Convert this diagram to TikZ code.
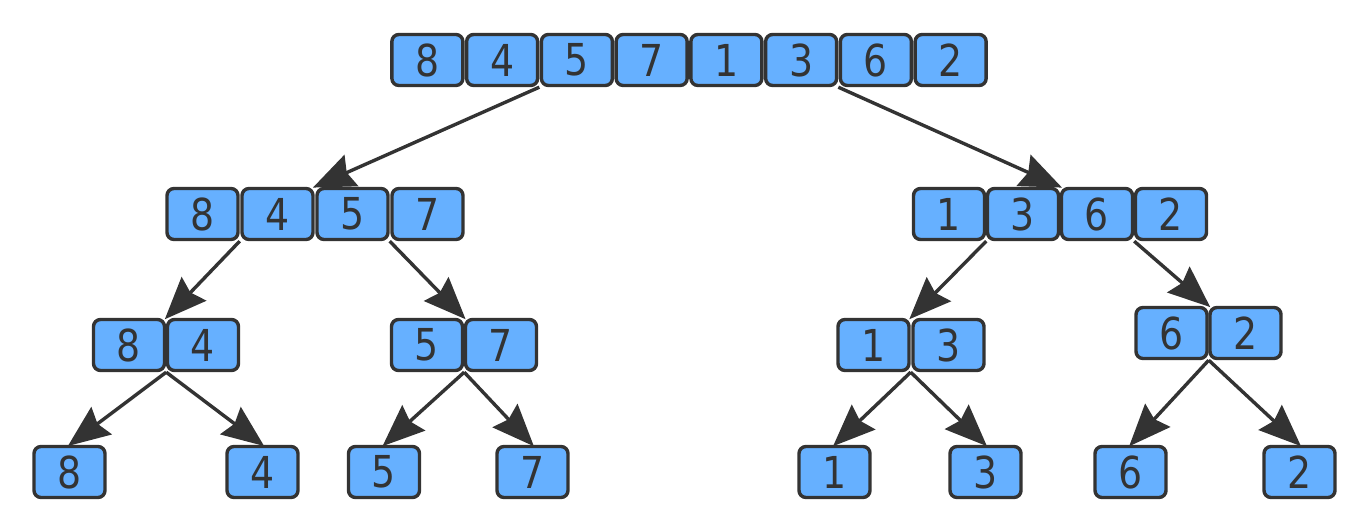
\documentclass[tikz,border=0pt]{standalone}
\usepackage{fontspec}
\setmainfont{DejaVu Sans}
\usetikzlibrary{arrows.meta}
\definecolor{boxfill}{RGB}{102,176,255}
\definecolor{ink}{RGB}{51,51,51}
\newcommand{\dg}[1]{\scalebox{0.86}[1]{#1}}
\tikzset{
  cell/.style={draw=ink, fill=boxfill, line width=1.7pt, rounded corners=3.5pt,
    minimum width=35.5pt, minimum height=25.5pt, inner sep=0pt, text=ink,
    font=\fontsize{22}{22}\selectfont},
  link/.style={draw=ink, line width=1.7pt, -{Stealth[length=21pt,width=17pt,inset=2.5pt]}, shorten >=-1pt}
}
\begin{document}
\begin{tikzpicture}[x=0.5pt,y=-0.5pt]
\useasboundingbox (0,0) rectangle (1368,522);
% top row
\foreach \v [count=\i from 0] in {8,4,5,7,1,3,6,2} {
  \node[cell] (t\i) at ({390+74.75*(\i+0.5)},60) {\dg{\v}};
}
% level 2 left
\foreach \v [count=\i from 0] in {8,4,5,7} {
  \node[cell] (a\i) at ({165+75*(\i+0.5)},214) {\dg{\v}};
}
% level 2 right
\foreach \v [count=\i from 0] in {1,3,6,2} {
  \node[cell] (b\i) at ({912+74*(\i+0.5)},214) {\dg{\v}};
}
% level 3
\node[cell] (c0) at (129,345) {\dg{8}};
\node[cell] (c1) at (203,345) {\dg{4}};
\node[cell] (d0) at (427,345) {\dg{5}};
\node[cell] (d1) at (501,345) {\dg{7}};
\node[cell] (e0) at (873.5,345) {\dg{1}};
\node[cell] (e1) at (948.5,345) {\dg{3}};
\node[cell] (f0) at (1171.5,333) {\dg{6}};
\node[cell] (f1) at (1245.5,333) {\dg{2}};
% leaves
\node[cell] (g0) at (69.5,472) {\dg{8}};
\node[cell] (g1) at (262.5,472) {\dg{4}};
\node[cell] (g2) at (384,472) {\dg{5}};
\node[cell] (g3) at (532.5,472) {\dg{7}};
\node[cell] (g4) at (834.5,472) {\dg{1}};
\node[cell] (g5) at (985.5,472) {\dg{3}};
\node[cell] (g6) at (1130.5,472) {\dg{6}};
\node[cell] (g7) at (1299.5,472) {\dg{2}};
% connectors
\draw[link] (t1.south east) -- (a1.north east);
\draw[link] (t5.south east) -- (b1.north east);
\draw[link] (a0.south east) -- (c0.north east);
\draw[link] (a2.south east) -- (d0.north east);
\draw[link] (b0.south east) -- (e0.north east);
\draw[link] (b2.south east) -- (f0.north east);
\draw[link] (c0.south east) -- (g0.north);
\draw[link] (c0.south east) -- (g1.north);
\draw[link] (d0.south east) -- (g2.north);
\draw[link] (d0.south east) -- (g3.north);
\draw[link] (e0.south east) -- (g4.north);
\draw[link] (e0.south east) -- (g5.north);
\draw[link] (f0.south east) -- (g6.north);
\draw[link] (f0.south east) -- (g7.north);
\end{tikzpicture}
\end{document}
